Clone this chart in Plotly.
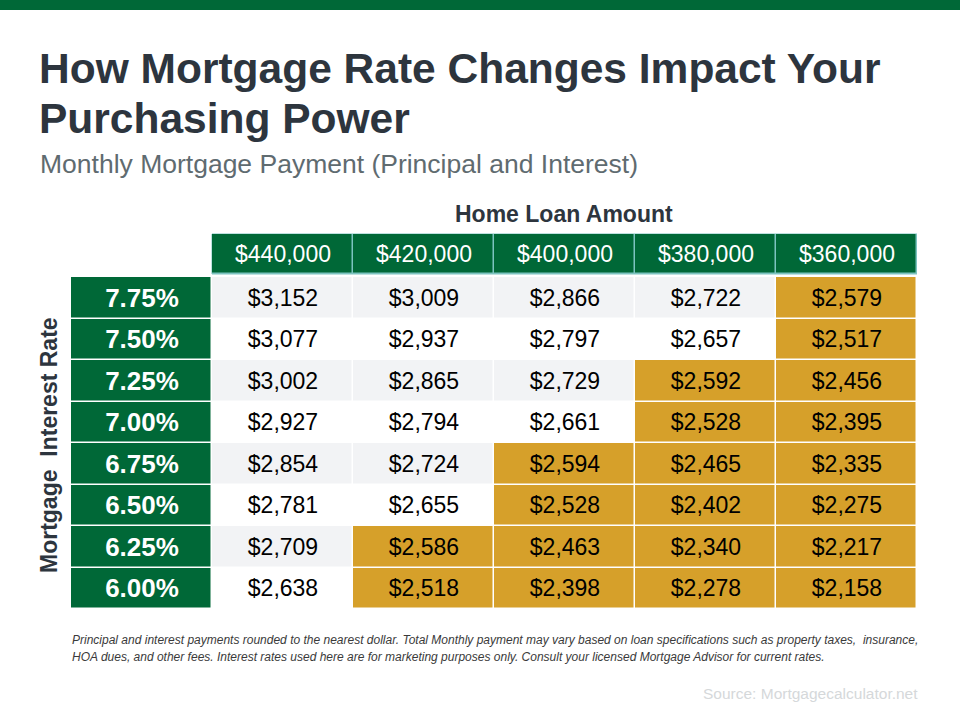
import plotly.graph_objects as go

# ---------------- data ----------------
loan_amounts = ["$440,000", "$420,000", "$400,000", "$380,000", "$360,000"]
rates = ["7.75%", "7.50%", "7.25%", "7.00%", "6.75%", "6.50%", "6.25%", "6.00%"]
payments = [
    [3152, 3009, 2866, 2722, 2579],
    [3077, 2937, 2797, 2657, 2517],
    [3002, 2865, 2729, 2592, 2456],
    [2927, 2794, 2661, 2528, 2395],
    [2854, 2724, 2594, 2465, 2335],
    [2781, 2655, 2528, 2402, 2275],
    [2709, 2586, 2463, 2340, 2217],
    [2638, 2518, 2398, 2278, 2158],
]
budget_limit = 2600  # payments below this are highlighted

title_line1 = "How Mortgage Rate Changes Impact Your"
title_line2 = "Purchasing Power"
subtitle = "Monthly Mortgage Payment (Principal and Interest)"
col_title = "Home Loan Amount"
row_title = "Mortgage\u00a0 Interest Rate"
footnote1 = ("Principal and interest payments rounded to the nearest dollar. Total Monthly payment may vary based on loan "
             "specifications such as property taxes,  insurance,")
footnote2 = ("HOA dues, and other fees. Interest rates used here are for marketing purposes only. Consult your licensed "
             "Mortgage Advisor for current rates.")
source = "Source: Mortgagecalculator.net"

# ---------------- styles ----------------
GREEN = "#006837"
GOLD = "#d6a02a"
STRIPE = "#f2f3f5"
WHITE = "#ffffff"
TEAL = "#7cc3c0"
DARK = "#2d353e"
FONT = "Liberation Sans, Arial, sans-serif"
W, H = 960, 720

# column / row indices (column 0 holds the rate labels)
n_cols = len(loan_amounts) + 1
loan_x = [j + 1 for j in range(len(loan_amounts))]
label_x = [0]
row_y = [len(rates) - 1 - i for i in range(len(rates))]  # first rate on top

# body colour codes: 0 stripe, 1 white, 2 gold
z_body = []
t_body = []
for i, row in enumerate(payments):
    zr, tr = [], []
    for v in row:
        if v < budget_limit:
            zr.append(2)
        else:
            zr.append(0 if i % 2 == 0 else 1)
        tr.append("${:,}".format(v))
    z_body.append(zr)
    t_body.append(tr)

fig = go.Figure()

# data cells
fig.add_trace(go.Heatmap(
    x=loan_x, y=row_y, z=z_body, text=t_body, texttemplate="%{text}",
    textfont=dict(family=FONT, size=23, color="#000000"),
    colorscale=[[0, STRIPE], [0.5, WHITE], [1, GOLD]], zmin=0, zmax=2,
    showscale=False, xgap=1.5, ygap=1.5, hoverinfo="skip",
    xaxis="x", yaxis="y",
))

# rate label cells
fig.add_trace(go.Heatmap(
    x=label_x, y=row_y, z=[[1] for _ in rates],
    text=[["<b>%s</b>" % r] for r in rates], texttemplate="%{text}",
    textfont=dict(family=FONT, size=26, color="#ffffff"),
    colorscale=[[0, GREEN], [1, GREEN]], showscale=False,
    xgap=1.5, ygap=1.5, hoverinfo="skip", xaxis="x", yaxis="y",
))

# header cells
fig.add_trace(go.Heatmap(
    x=loan_x, y=[0], z=[[1] * len(loan_amounts)],
    text=[loan_amounts], texttemplate="%{text}",
    textfont=dict(family=FONT, size=23, color="#ffffff"),
    colorscale=[[0, GREEN], [1, GREEN]], showscale=False,
    xgap=1.5, ygap=1.5, hoverinfo="skip", xaxis="x", yaxis="y2",
))

x0, x1 = 71 / W, 917 / W
body_top, body_bot = 1 - 277 / H, 1 - 609 / H
hdr_top, hdr_bot = 1 - 234 / H, 1 - 274 / H

axis_common = dict(showgrid=False, zeroline=False, showticklabels=False, ticks="", showline=False, fixedrange=True)

fig.update_layout(
    width=W, height=H,
    margin=dict(l=0, r=0, t=0, b=0),
    paper_bgcolor="white", plot_bgcolor="white",
    showlegend=False,
    xaxis=dict(domain=[x0, x1], range=[-0.5, n_cols - 0.5], **axis_common),
    yaxis=dict(domain=[body_bot, body_top], range=[-0.5, len(rates) - 0.5], **axis_common),
    yaxis2=dict(domain=[hdr_bot, hdr_top], range=[-0.5, 0.5], **axis_common),
    shapes=[
        dict(type="rect", xref="paper", yref="paper", x0=0, x1=1, y0=1 - 10 / H, y1=1,
             fillcolor=GREEN, line_width=0, layer="above"),
        # thin teal outline behind the header cells
        dict(type="rect", xref="x", yref="y2 domain", x0=loan_x[0] - 0.5, x1=loan_x[-1] + 0.5,
             y0=0, y1=1, fillcolor=TEAL, line=dict(color=TEAL, width=1), layer="below"),
    ],
)

def ann(text, x, y, size, color, xanchor="left", yanchor="middle", textangle=0, **kw):
    fig.add_annotation(text=text, x=x / W, y=1 - y / H, xref="paper", yref="paper",
                       xanchor=xanchor, yanchor=yanchor, showarrow=False, textangle=textangle,
                       font=dict(family=FONT, size=size, color=color), **kw)

ann("<b>%s</b>" % title_line1, 37, 68, 42.5, DARK)
ann("<b>%s</b>" % title_line2, 37, 119, 42.5, DARK)
ann(subtitle, 38, 164, 26.5, "#5f6b70")
ann("<b>%s</b>" % col_title, 564, 214, 23, DARK, xanchor="center")
ann("<b>%s</b>" % row_title, 49, 445, 23, DARK, xanchor="center", textangle=-90)
ann("<i>%s</i>" % footnote1, 70, 640, 12, "#3a3a3a")
ann("<i>%s</i>" % footnote2, 70, 657, 12, "#3a3a3a")
ann(source, 920, 693, 15.5, "#d5d8da", xanchor="right")

fig.write_html("out.html", config={"displayModeBar": False},
               post_script="document.body.style.margin='0';document.body.style.overflow='hidden';")
